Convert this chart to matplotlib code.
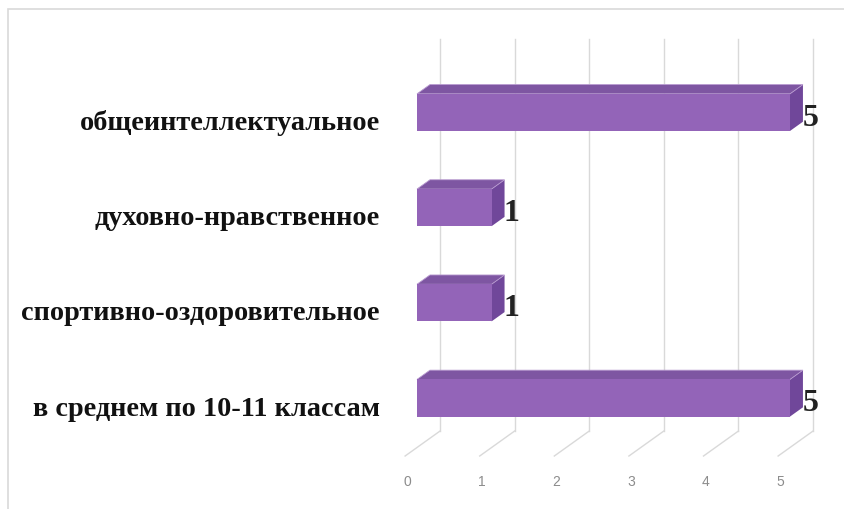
import matplotlib
matplotlib.use('Agg')
import matplotlib.pyplot as plt
from matplotlib.patches import Polygon, Rectangle

# data (bottom to top)
categories = ['в среднем по 10-11 классам', 'спортивно-оздоровительное',
              'духовно-нравственное', 'общеинтеллектуальное']
values = [5, 1, 1, 5]
ticks = [0, 1, 2, 3, 4, 5]

# fake 3d settings (depth d: 0 = front of floor, 1 = back wall)
D0 = 0.34          # depth of bar front face
D1 = 0.71          # depth of bar back face
KX = 0.469         # x shift per unit depth
KY = 0.263         # y shift per unit depth
H = 0.195          # half height of bar front face
FLOOR = -0.52
TOP = 3.6

front_c = '#9364B8'
top_c = '#7E56A2'
side_c = '#70479A'
grid_c = '#d9d9d9'


def P(v, y, d):
    return (v + (d - D0) * KX, y + (d - D0) * KY)


fig = plt.figure(figsize=(8.45, 5.10), dpi=100)
ax = fig.add_axes([0, 0, 1, 1])
ax.set_xlim(-417 / 74.6, (845 - 417) / 74.6)
ax.set_ylim((399 - 510) / 95.2, 399 / 95.2)
ax.axis('off')

# chart border
fig.patches.append(Rectangle((8 / 845, -0.05), 1.2, 1 - 10 / 510 + 0.05,
                             transform=fig.transFigure, fill=False,
                             edgecolor='#d9d9d9', lw=1.2))

# grid: back wall verticals + floor diagonals
for t in ticks:
    x0, y0 = P(t, FLOOR, 1)
    x1, y1 = P(t, TOP, 1)
    ax.plot([x0, x1], [y0, y1], color=grid_c, lw=1, zorder=1)
    x2, y2 = P(t, FLOOR, 0)
    ax.plot([x2, x0], [y2, y0], color=grid_c, lw=1, zorder=1)
    ax.text(x2 + 0.03, FLOOR - 0.35, str(t), ha='center', va='center',
            fontsize=10, color='#8c8c8c', family='Liberation Sans')

# bars
for i, (cat, v) in enumerate(zip(categories, values)):
    front = [P(0, i - H, D0), P(v, i - H, D0), P(v, i + H, D0), P(0, i + H, D0)]
    top = [P(0, i + H, D0), P(v, i + H, D0), P(v, i + H, D1), P(0, i + H, D1)]
    side = [P(v, i - H, D0), P(v, i - H, D1), P(v, i + H, D1), P(v, i + H, D0)]
    ax.add_patch(Polygon(side, closed=True, facecolor=side_c, edgecolor='none', zorder=3))
    ax.add_patch(Polygon(top, closed=True, facecolor=top_c, edgecolor='#b89ad0', lw=0.6, zorder=3))
    ax.add_patch(Polygon(front, closed=True, facecolor=front_c, edgecolor='none', zorder=4))
    xe, ye = P(v, i, D1)
    ax.text(xe - 0.01, i - 0.13, str(v), ha='left', va='baseline',
            fontsize=23, fontweight='bold', family='Liberation Serif', color='#222222', zorder=5)
    ax.text(-0.5, i - 0.175, cat, ha='right', va='baseline',
            fontsize=20.3, fontweight='bold', family='Liberation Serif', color='#111111')

fig.savefig('out.png', dpi=100)
